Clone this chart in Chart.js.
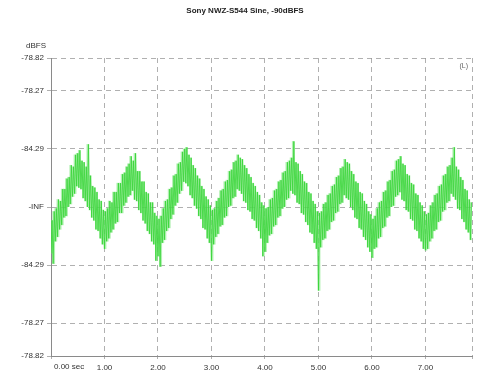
<!DOCTYPE html>
<html>
<head>
<meta charset="utf-8">
<script src="https://cdn.jsdelivr.net/npm/chart.js@4/dist/chart.umd.min.js"></script>
<style>
  html, body { margin: 0; padding: 0; background: #ffffff; }
  #wrap { width: 481px; height: 381px; position: relative; }
</style>
</head>
<body>
<div id="wrap"><canvas id="c" width="481" height="381"></canvas></div>
<script>
// Waveform overview: per-sample minimum / maximum, in % of full scale
const sampleStep = 0.04; // seconds between columns

const bandHigh = [
  -9,-3,-1,5,4,12,12,19,20,28,27,35,36,38,31,30,27,42,21,14,13,10,5,4,-2,
  -3,-1,4,3,10,10,16,16,22,23,27,29,34,31,36,24,24,17,17,10,9,3,3,-4,-6,
  -8,-6,-1,4,5,12,13,21,22,29,30,37,39,40,35,33,28,26,21,19,14,12,7,5,1,
  -2,-1,4,6,11,12,17,18,24,25,30,31,35,33,32,28,26,22,20,16,14,10,8,3,1,
  -1,0,5,6,11,12,17,18,23,24,30,31,33,44,30,29,24,22,17,16,10,9,4,2,-3,
  -4,-3,2,3,8,9,14,15,20,21,26,27,32,30,29,24,22,17,16,10,9,4,2,-3,-5,
  -8,-6,-1,3,4,10,11,17,18,24,25,31,32,34,29,28,22,21,16,15,9,8,3,1,-3,
  -5,-4,1,3,8,9,14,15,21,22,27,28,33,40,27,25,20,18,12,11,5,3
];

const bandLow = [
  -31,-38,-23,-20,-15,-12,-7,-6,0,2,7,9,14,13,12,6,4,0,-2,-7,-9,-15,-16,-21,-25,
  -28,-23,-21,-17,-15,-11,-10,-4,-4,1,3,7,8,11,5,4,-2,-4,-9,-11,-16,-18,-23,-25,-36,
  -33,-40,-24,-22,-16,-14,-8,-5,1,3,9,11,17,16,14,8,6,1,-1,-6,-8,-14,-15,-21,-24,
  -36,-25,-20,-18,-13,-12,-7,-6,0,1,6,7,12,11,9,4,3,-2,-3,-8,-9,-14,-16,-21,-33,
  -30,-24,-19,-18,-13,-12,-7,-6,-1,0,5,6,11,9,8,3,2,-4,-5,-10,-12,-17,-18,-24,-28,
  -56,-27,-22,-21,-16,-15,-10,-9,-4,-3,2,3,8,6,5,0,-2,-7,-8,-14,-15,-20,-22,-27,-30,
  -34,-28,-27,-21,-20,-14,-13,-7,-6,0,1,7,8,10,5,4,-2,-3,-8,-9,-15,-16,-21,-23,-28,
  -29,-28,-23,-21,-16,-15,-10,-9,-3,-2,3,4,9,7,5,-1,-2,-8,-10,-15,-17,-22
];

// Level scale: positions (% of full scale) and their dBFS captions
const yTickValues = [100, 78, 39, 0, -39, -78, -100];
const yTickLabels = ['-78.82', '-78.27', '-84.29', '-INF', '-84.29', '-78.27', '-78.82'];

// Time scale (seconds)
const xTickValues = [0, 1, 2, 3, 4, 5, 6, 7];
const xEnd = 7.87;

const titleText = 'Sony NWZ-S544 Sine, -90dBFS';
const unitText = 'dBFS';
const channelText = '(L)';
const firstTimeText = '0.00 sec';

// zig-zag trace through min/max of each column
const trace = [];
const columns = [];
for (let i = 0; i < bandLow.length; i++) {
  const t = i * sampleStep;
  trace.push({ x: t, y: bandLow[i] });
  trace.push({ x: t + sampleStep / 2, y: bandHigh[i] });
  columns.push({ x: t + sampleStep / 4, y: [bandLow[i], bandHigh[i]] });
}

const FONT = 'Liberation Sans, Arial, sans-serif';

const textPlugin = {
  id: 'textPlugin',
  afterDraw(chart) {
    const ctx = chart.ctx;
    const area = chart.chartArea;
    const xs = chart.scales.x;
    ctx.save();
    ctx.fillStyle = '#222';
    ctx.font = 'bold 8px ' + FONT;
    ctx.textAlign = 'center';
    ctx.textBaseline = 'middle';
    ctx.fillText(titleText, 245, 11);

    ctx.font = '8px ' + FONT;
    ctx.fillStyle = '#333';
    ctx.textAlign = 'right';
    ctx.fillText(unitText, 46, 46);

    ctx.fillStyle = '#666';
    ctx.textAlign = 'right';
    ctx.font = '7px ' + FONT;
    ctx.fillText(channelText, area.right - 4, area.top + 8);

    ctx.fillStyle = '#333';
    ctx.font = '8px ' + FONT;
    ctx.textAlign = 'left';
    ctx.textBaseline = 'top';
    ctx.fillText(firstTimeText, xs.getPixelForValue(0) + 3, area.bottom + 7);
    ctx.restore();
  }
};

const gridColor = 'rgba(150,150,150,0.75)';

new Chart(document.getElementById('c'), {
  data: {
    datasets: [
      {
        type: 'line',
        data: trace,
        borderColor: 'rgba(55,212,55,0.8)',
        borderWidth: 1,
        pointRadius: 0,
        tension: 0,
        order: 1
      },
      {
        type: 'bar',
        data: columns,
        backgroundColor: 'rgba(125,230,125,0.6)',
        borderWidth: 0,
        barPercentage: 1,
        categoryPercentage: 1,
        grouped: false,
        order: 2
      }
    ]
  },
  options: {
    responsive: false,
    animation: false,
    events: [],
    layout: { padding: { top: 58, right: 9, left: 0, bottom: 0 } },
    plugins: {
      legend: { display: false },
      title: { display: false },
      tooltip: { enabled: false }
    },
    scales: {
      x: {
        type: 'linear',
        min: 0,
        max: xEnd,
        offset: false,
        afterBuildTicks(scale) {
          scale.ticks = xTickValues.concat([xEnd]).map(v => ({ value: v }));
        },
        afterFit(scale) { scale.height = 25; },
        ticks: {
          autoSkip: false,
          maxRotation: 0,
          padding: 4,
          color: '#333',
          font: { family: FONT, size: 8 },
          callback(v) {
            if (v === 0 || v === xEnd) return '';
            return Number(v).toFixed(2);
          }
        },
        grid: {
          color: gridColor,
          lineWidth: 1,
          tickLength: 3,
          drawTicks: true,
          offset: false
        },
        border: { display: true, color: '#8a8a8a', width: 1, dash: [5, 4] }
      },
      y: {
        type: 'linear',
        min: -100,
        max: 100,
        afterBuildTicks(scale) {
          scale.ticks = yTickValues.map(v => ({ value: v }));
        },
        afterFit(scale) { scale.width = 51; },
        ticks: {
          autoSkip: false,
          padding: 3,
          color: '#333',
          font: { family: FONT, size: 8 },
          callback(v) {
            const k = yTickValues.indexOf(v);
            return k >= 0 ? yTickLabels[k] : '';
          }
        },
        grid: {
          color: gridColor,
          lineWidth: 1,
          tickLength: 4,
          drawTicks: true
        },
        border: { display: true, color: '#8a8a8a', width: 1, dash: [5, 4] }
      }
    }
  },
  plugins: [textPlugin]
});
</script>
</body>
</html>
